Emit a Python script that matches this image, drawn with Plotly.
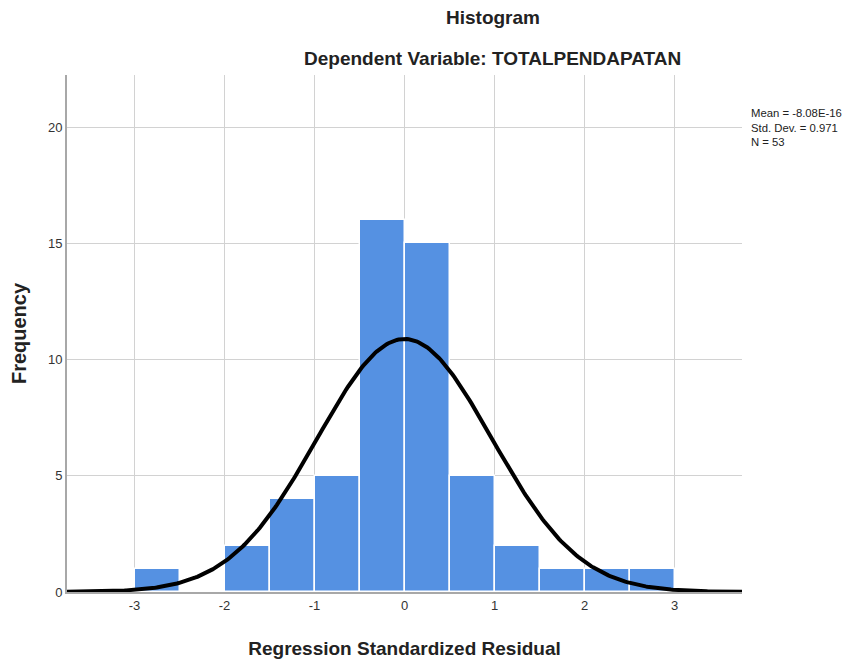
import numpy as np
import plotly.graph_objects as go

# Histogram data (bin edges of width 0.5)
bin_left = [-3.0, -2.5, -2.0, -1.5, -1.0, -0.5, 0.0, 0.5, 1.0, 1.5, 2.0, 2.5]
counts = [1, 0, 2, 4, 5, 16, 15, 5, 2, 1, 1, 1]
bin_width = 0.5

# Summary statistics shown in the chart
mean_label = "-8.08E-16"
mean_val = -8.08e-16
std_val = 0.971
n_val = 53

x_ticks = [-3, -2, -1, 0, 1, 2, 3]
y_ticks = [0, 5, 10, 15, 20]

centers = [b + bin_width / 2 for b in bin_left]

xs = np.linspace(-3.75, 3.75, 400)
ys = n_val * bin_width * np.exp(-0.5 * ((xs - mean_val) / std_val) ** 2) / (std_val * np.sqrt(2 * np.pi))

font_main = "Liberation Sans, Arial, sans-serif"

fig = go.Figure()
fig.add_trace(go.Bar(
    x=centers, y=counts, width=bin_width,
    marker=dict(color="#5591E2", line=dict(color="white", width=1.5)),
    hoverinfo="skip",
))
fig.add_trace(go.Scatter(
    x=xs, y=ys, mode="lines",
    line=dict(color="black", width=4),
    hoverinfo="skip",
))

L, R, T, B = 59, 120, 67, 80
pw = 854 - L - R

fig.update_layout(
    width=854, height=664,
    margin=dict(l=L, r=R, t=T, b=B),
    paper_bgcolor="white", plot_bgcolor="white",
    showlegend=False,
    bargap=0,
    font=dict(family=font_main, color="#222222"),
    xaxis=dict(
        range=[-3.75, 3.75], tickvals=x_ticks, ticktext=[str(v) for v in x_ticks],
        showgrid=True, gridcolor="#d2d2d2", gridwidth=1.2, automargin=False,
        zeroline=False, showline=True, linecolor="#a8a8a8", linewidth=2,
        ticks="", tickfont=dict(size=13, color="#333333", family=font_main),
        title=dict(text="<b>Regression Standardized Residual</b>",
                   font=dict(size=19, color="#222222", family=font_main), standoff=30),
    ),
    yaxis=dict(
        range=[0, 22.25], tickvals=y_ticks, ticktext=[str(v) for v in y_ticks],
        showgrid=True, gridcolor="#d2d2d2", gridwidth=1.2, automargin=False,
        zeroline=False, showline=True, linecolor="#a8a8a8", linewidth=2,
        ticks="", tickfont=dict(size=13, color="#333333", family=font_main),
        title=dict(text="<b>Frequency</b>",
                   font=dict(size=20, color="#222222", family=font_main), standoff=20),
    ),
    annotations=[
        dict(text="<b>Histogram</b>", xref="paper", yref="paper", x=(493 - 67) / pw, y=1,
             yshift=58, xanchor="center", yanchor="middle", showarrow=False,
             font=dict(size=19, color="#222222", family=font_main)),
        dict(text="<b>Dependent Variable: TOTALPENDAPATAN</b>", xref="paper", yref="paper",
             x=(493 - 67) / pw, y=1, yshift=17, xanchor="center", yanchor="middle", showarrow=False,
             font=dict(size=19, color="#222222", family=font_main)),
        dict(text=f"Mean = {mean_label}<br>Std. Dev. = {std_val}<br>N = {n_val}",
             xref="paper", yref="paper", x=1, xshift=7, y=1, yshift=-30,
             xanchor="left", yanchor="top", align="left", showarrow=False,
             font=dict(size=11.3, color="#222222", family=font_main)),
    ],
)

fig.write_html("out.html")
